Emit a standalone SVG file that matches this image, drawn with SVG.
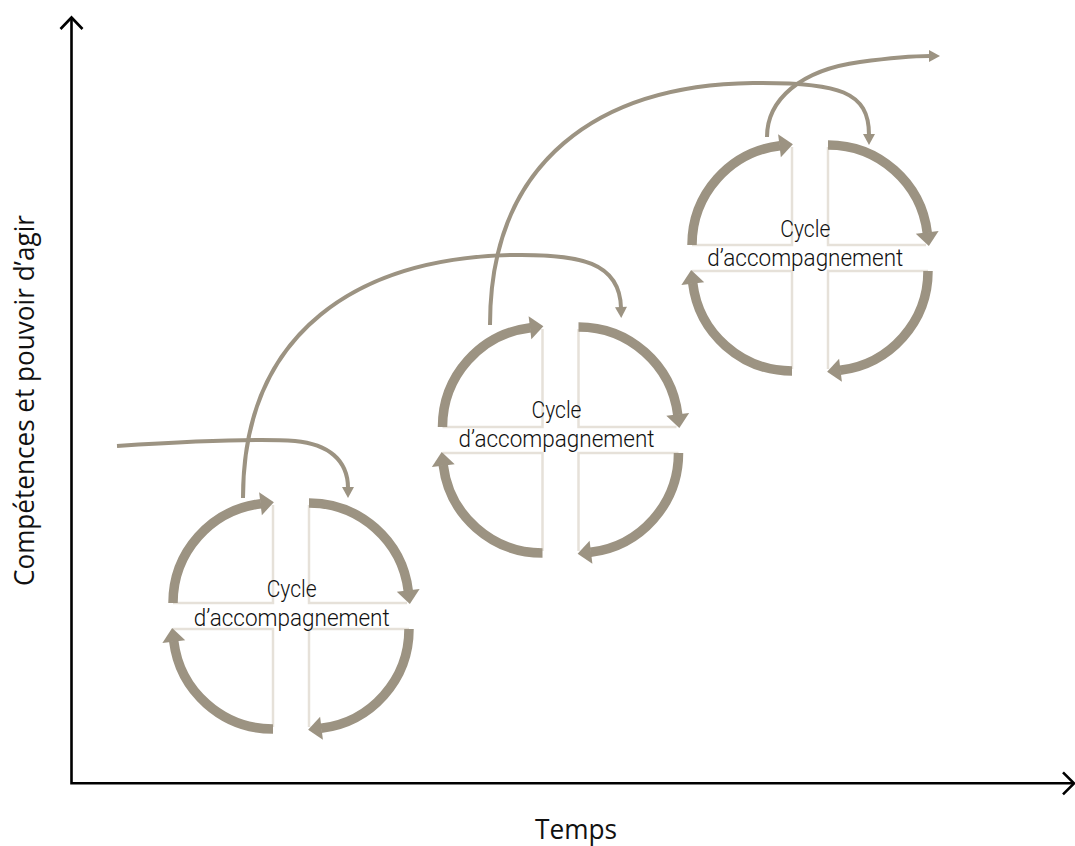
<svg xmlns="http://www.w3.org/2000/svg" width="1075" height="846" viewBox="0 0 1075 846">
  <style>
    .axis{fill:none;stroke:#000;stroke-width:2.6;stroke-linejoin:miter}
    .link{fill:none;stroke:#9c9382;stroke-width:4}
    .arc{fill:none;stroke:#9c9382;stroke-width:9.5}
    .guide{fill:none;stroke:#e6e1d9;stroke-width:2.5}
    .cyc{font-family:Roboto,"Open Sans",sans-serif;font-weight:300;font-size:23px;fill:#111;text-anchor:middle}
    .lbl{font-family:"Open Sans","Noto Sans",sans-serif;font-size:27px;fill:#111;text-anchor:middle}
  </style>
  <defs>
    <marker id="head-big" markerUnits="userSpaceOnUse" markerWidth="14" markerHeight="24" refX="0" refY="0" orient="auto" overflow="visible">
      <path d="M-0.5,-11.5 L13,0 L-0.5,11.5 z" fill="#9c9382"/>
    </marker>
    <marker id="head-small" markerUnits="userSpaceOnUse" markerWidth="12" markerHeight="14" refX="0" refY="0" orient="auto" overflow="visible">
      <path d="M-1,-6 L10,0 L-1,6 z" fill="#9c9382"/>
    </marker>
    <!-- four quarter arcs around a cross-shaped gap; origin = inner top-left corner -->
    <g id="cycle-shape">
      <path class="guide" d="M0,-98 V0 H-100"/>
      <path class="guide" d="M36,-98 V0 H134"/>
      <path class="guide" d="M36,124 V26 H136"/>
      <path class="guide" d="M0,124 V26 H-100"/>
      <path class="arc" d="M-100,0 A100,100 0 0 1 -12.01,-99.28" marker-end="url(#head-big)"/>
      <path class="arc" d="M36,-100 A100,100 0 0 1 135.28,-12.01" marker-end="url(#head-big)"/>
      <path class="arc" d="M136,26 A100,100 0 0 1 48.01,125.28" marker-end="url(#head-big)"/>
      <path class="arc" d="M0,126 A100,100 0 0 1 -99.28,38.01" marker-end="url(#head-big)"/>
    </g>
  </defs>

  <!-- axes -->
  <g id="axes">
    <path class="axis" d="M71.5,18 V783.3 H1073"/>
    <polyline class="axis" points="60.5,29 71.5,17.5 82.5,29"/>
    <polyline class="axis" points="1063,772.3 1074,783.3 1063,794.3"/>
    <text class="lbl" x="576" y="839" textLength="82" lengthAdjust="spacingAndGlyphs">Temps</text>
    <text class="lbl" transform="translate(33.5,400.5) rotate(-90)" x="0" y="0" font-size="26" textLength="371" lengthAdjust="spacingAndGlyphs">Compétences et pouvoir d’agir</text>
  </g>

  <!-- transitions between cycles -->
  <g id="connectors">
    <path class="link" d="M117,446 C180,442 250,438 295,441 C328,444 348,460 348,488" marker-end="url(#head-small)"/>
    <path class="link" d="M243,498 C243,330 360,258 513,255 C580,254 620,262 621,308" marker-end="url(#head-small)"/>
    <path class="link" d="M490,325 C490,160 600,85 753,83 C840,82 869,92 869,135" marker-end="url(#head-small)"/>
    <path class="link" d="M767,137 C767,100 800,70 860,62 C890,58 910,56 930,56" marker-end="url(#head-small)"/>
  </g>

  <g id="cycle-1" transform="translate(273,603)">
    <use href="#cycle-shape"/>
    <text class="cyc" x="18.7" y="-6.3" textLength="50" lengthAdjust="spacingAndGlyphs">Cycle</text>
    <text class="cyc" x="18.7" y="23" textLength="196" lengthAdjust="spacingAndGlyphs">d’accompagnement</text>
  </g>

  <g id="cycle-2" transform="translate(542.5,427)">
    <use href="#cycle-shape"/>
    <text class="cyc" x="14" y="-9.5" textLength="50" lengthAdjust="spacingAndGlyphs">Cycle</text>
    <text class="cyc" x="14" y="20" textLength="196" lengthAdjust="spacingAndGlyphs">d’accompagnement</text>
  </g>

  <g id="cycle-3" transform="translate(792,245)">
    <use href="#cycle-shape"/>
    <text class="cyc" x="13.3" y="-8.3" textLength="50" lengthAdjust="spacingAndGlyphs">Cycle</text>
    <text class="cyc" x="13.3" y="21" textLength="196" lengthAdjust="spacingAndGlyphs">d’accompagnement</text>
  </g>
</svg>
